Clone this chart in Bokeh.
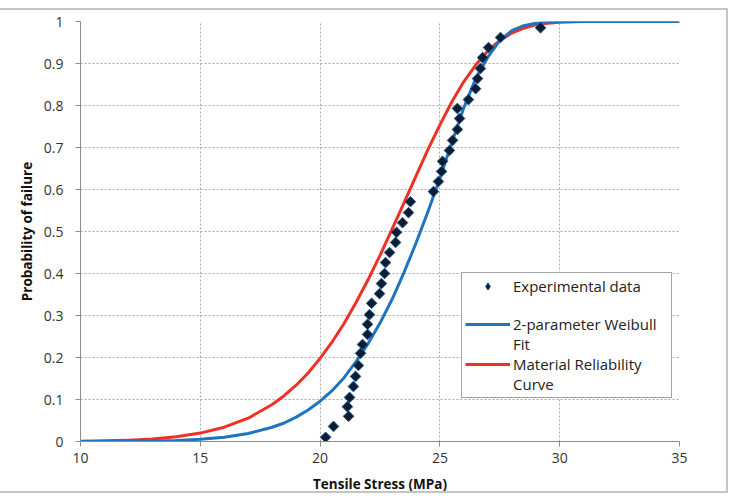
from bokeh.plotting import figure
from bokeh.models import ColumnDataSource, FixedTicker, Legend, LegendItem
from bokeh.embed import file_html
from bokeh.resources import INLINE

# Measured tensile strengths (MPa) and their probability of failure
stress = [20.23, 20.56, 21.19, 21.14, 21.23, 21.39, 21.48, 21.60, 21.69, 21.77,
          21.98, 21.98, 22.06, 22.15, 22.48, 22.56, 22.69, 22.73, 22.90, 23.15,
          23.19, 23.44, 23.69, 23.77, 24.73, 24.94, 25.07, 25.11, 25.40, 25.53,
          25.73, 25.82, 25.73, 26.19, 26.49, 26.57, 26.69, 26.78, 27.03, 27.53,
          29.20]
p_fail = [0.010, 0.036, 0.060, 0.083, 0.105, 0.131, 0.155, 0.181, 0.210, 0.231,
          0.255, 0.279, 0.302, 0.329, 0.352, 0.376, 0.400, 0.426, 0.450, 0.474,
          0.498, 0.521, 0.545, 0.571, 0.595, 0.619, 0.643, 0.667, 0.693, 0.717,
          0.743, 0.769, 0.793, 0.814, 0.840, 0.864, 0.888, 0.914, 0.938, 0.962,
          0.985]

# Curve sampling stresses (MPa)
curve_stress = [10, 11, 12, 13, 14, 15, 16, 17, 18, 18.5, 19, 19.5, 20, 20.5,
                21, 21.5, 22, 22.5, 23, 23.5, 24, 24.5, 25, 25.5, 26, 26.5, 27,
                27.5, 28, 28.5, 29, 29.5, 30, 31, 32, 33, 34, 35]
weibull_fit = [0.0001, 0.0002, 0.0005, 0.0012, 0.0026, 0.0053, 0.0103, 0.019,
               0.034, 0.044, 0.058, 0.075, 0.096, 0.121, 0.152, 0.190, 0.233,
               0.282, 0.338, 0.402, 0.472, 0.547, 0.627, 0.712, 0.795, 0.865,
               0.915, 0.955, 0.978, 0.990, 0.996, 0.999, 1.0, 1.0, 1.0, 1.0,
               1.0, 1.0]
reliability = [0.0007, 0.0015, 0.0032, 0.0061, 0.0113, 0.020, 0.034, 0.0555,
               0.088, 0.109, 0.134, 0.163, 0.198, 0.237, 0.281, 0.331, 0.385,
               0.443, 0.505, 0.568, 0.632, 0.695, 0.754, 0.809, 0.857, 0.897,
               0.930, 0.955, 0.9725, 0.984, 0.992, 0.996, 0.998, 0.9998, 1.0,
               1.0, 1.0, 1.0]

x_ticks = [10, 15, 20, 25, 30, 35]
y_ticks = [0, 0.1, 0.2, 0.3, 0.4, 0.5, 0.6, 0.7, 0.8, 0.9, 1]
y_tick_labels = ["0", "0.1", "0.2", "0.3", "0.4", "0.5", "0.6", "0.7", "0.8",
                 "0.9", "1"]

FONT = "Open Sans"
FRAME = "2px solid #c4c4c4"
MARKER_FILL = "#0c1d36"
MARKER_LINE = "#1d4f80"

pts_src = ColumnDataSource(data=dict(x=stress, y=p_fail))
curve_src = ColumnDataSource(data=dict(x=curve_stress, fit=weibull_fit,
                                       rel=reliability))

p = figure(width=728, height=485, x_range=(10, 35), y_range=(0, 1),
           output_backend="svg", toolbar_location=None,
           min_border_left=80, min_border_right=49, min_border_top=11,
           min_border_bottom=54, background_fill_color="white",
           border_fill_color="white")
p.styles = {"margin-top": "8px", "border-top": FRAME, "border-right": FRAME,
            "border-bottom": FRAME}
p.outline_line_color = None

# Gridlines
for g in (p.xgrid, p.ygrid):
    g.grid_line_color = "#a8a8a8"
    g.grid_line_dash = "2 2"
    g.grid_line_width = 1

# Axes
p.xaxis.ticker = FixedTicker(ticks=x_ticks)
p.yaxis.ticker = FixedTicker(ticks=y_ticks)
p.yaxis.major_label_overrides = {t: s for t, s in zip(y_ticks, y_tick_labels)}
for ax in (p.xaxis, p.yaxis):
    ax.axis_line_color = "#8c8c8c"
    ax.axis_line_width = 1
    ax.major_tick_line_color = "#8c8c8c"
    ax.major_tick_out = 5
    ax.major_tick_in = 0
    ax.minor_tick_line_color = None
    ax.major_label_text_font = FONT
    ax.major_label_text_font_size = "14px"
    ax.major_label_text_color = "#333333"
    ax.axis_label_text_font = FONT
    ax.axis_label_text_font_size = "13.5px"
    ax.axis_label_text_font_style = "bold"
    ax.axis_label_text_color = "#111111"
p.xaxis.axis_label = "Tensile Stress (MPa)"
p.yaxis.axis_label = "Probability of failure"
p.xaxis.major_label_standoff = 6
p.xaxis.axis_label_standoff = 9
p.yaxis.major_label_standoff = 12
p.yaxis.axis_label_standoff = 5

red = p.line("x", "rel", source=curve_src, line_color="#ee3124",
             line_width=3, line_join="round")
blue = p.line("x", "fit", source=curve_src, line_color="#1f74bf",
              line_width=3, line_join="round")
# Experimental points drawn as squares turned 45 degrees
pts = p.scatter("x", "y", source=pts_src, marker="square", size=7.5,
                angle=0.785398, fill_color=MARKER_FILL,
                line_color=MARKER_LINE, line_width=1)

# Hidden diamond renderer that supplies the legend key for the points
pts_key = p.scatter("x", "y", source=pts_src, marker="diamond", size=12,
                    fill_color=MARKER_FILL, line_color=MARKER_LINE,
                    line_width=1, visible=False)
# Empty renderer for the continuation rows of the wrapped legend labels
blank = p.line(x=[], y=[], line_alpha=0)

legend = Legend(items=[
    LegendItem(label="Experimental data", renderers=[pts_key]),
    LegendItem(label=" ", renderers=[blank]),
    LegendItem(label="2-parameter Weibull\u00a0\u00a0\u00a0", renderers=[blue]),
    LegendItem(label="Fit", renderers=[blank]),
    LegendItem(label="Material Reliability", renderers=[red]),
    LegendItem(label="Curve", renderers=[blank]),
], location=(381, 43))
legend.label_text_font = FONT
legend.label_text_font_size = "15px"
legend.label_text_color = "#222222"
legend.label_height = 18
legend.glyph_height = 18
legend.border_line_color = "#4a4a4a"
legend.border_line_width = 1.5
legend.background_fill_color = "white"
legend.background_fill_alpha = 1
legend.padding = 3
legend.spacing = 0
legend.glyph_width = 45
legend.label_standoff = 3
legend.margin = 0
p.add_layout(legend)

open("out.html", "w").write(file_html(p, INLINE))
